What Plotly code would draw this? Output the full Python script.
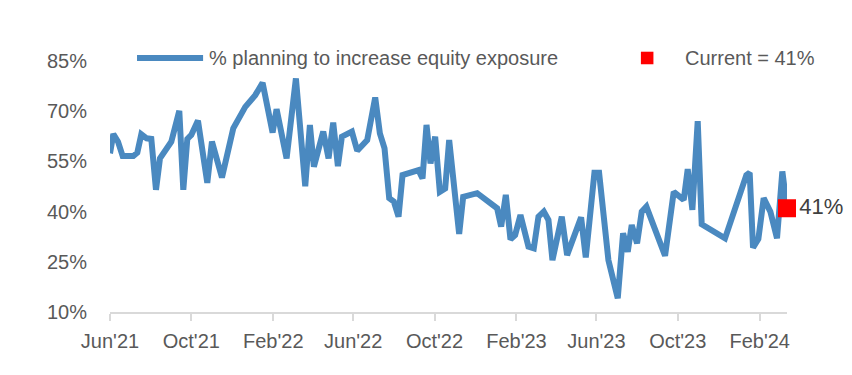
import plotly.graph_objects as go

# ---- data ----
dates = [
    "2021-06-01", "2021-06-06", "2021-06-13", "2021-06-20", "2021-07-06", "2021-07-12",
    "2021-07-18", "2021-07-26", "2021-08-02", "2021-08-09", "2021-08-15", "2021-09-01",
    "2021-09-13", "2021-09-19", "2021-09-25", "2021-10-01", "2021-10-11", "2021-10-25",
    "2021-11-01", "2021-11-16", "2021-12-03", "2021-12-21", "2022-01-05", "2022-01-16",
    "2022-01-31", "2022-02-06", "2022-02-21", "2022-03-07", "2022-03-21", "2022-03-28",
    "2022-04-03", "2022-04-17", "2022-04-25", "2022-05-02", "2022-05-09", "2022-05-15",
    "2022-05-30", "2022-06-07", "2022-06-22", "2022-07-04", "2022-07-11", "2022-07-18",
    "2022-07-25", "2022-08-01", "2022-08-08", "2022-08-14", "2022-09-07", "2022-09-13",
    "2022-09-19", "2022-09-25", "2022-10-02", "2022-10-09", "2022-10-17", "2022-10-23",
    "2022-11-07", "2022-11-13", "2022-12-04", "2023-01-03", "2023-01-09", "2023-01-16",
    "2023-01-23", "2023-01-30", "2023-02-07", "2023-02-19", "2023-02-27", "2023-03-06",
    "2023-03-14", "2023-03-21", "2023-03-27", "2023-04-10", "2023-04-18", "2023-05-09",
    "2023-05-16", "2023-05-29", "2023-06-05", "2023-06-19", "2023-07-03", "2023-07-11",
    "2023-07-18", "2023-07-24", "2023-08-01", "2023-08-08", "2023-08-15", "2023-09-02",
    "2023-09-12", "2023-09-25", "2023-10-10", "2023-10-16", "2023-10-23", "2023-10-31",
    "2023-11-06", "2023-12-11", "2024-01-12", "2024-01-17", "2024-01-22", "2024-01-30",
    "2024-02-07", "2024-02-17", "2024-02-27", "2024-03-06", "2024-03-13",
]
pct_increase = [
    57.4, 63.2, 60.9, 56.6, 56.6, 57.6,
    63.1, 61.9, 61.7, 46.5, 55.9, 60.9,
    70.1, 46.5, 61.7, 62.9, 67.2, 48.6,
    60.9, 50.2, 64.9, 71.3, 74.8, 78.5,
    63.6, 70.6, 55.9, 79.8, 47.6, 65.9,
    53.4, 63.9, 55.9, 66.6, 53.6, 62.4,
    63.9, 58.2, 61.4, 74.1, 63.4, 58.9,
    44.0, 43.0, 38.5, 50.9, 52.4, 49.9,
    65.9, 54.4, 62.4, 45.9, 46.9, 61.4,
    33.3, 44.4, 45.5, 41.0, 35.5, 45.0,
    31.7, 33.0, 39.0, 29.5, 29.0, 38.5,
    40.0, 37.5, 25.5, 38.5, 27.0, 38.3,
    26.3, 51.6, 51.6, 25.5, 14.1, 33.5,
    28.0, 36.0, 30.5, 40.0, 41.5, 32.0,
    26.8, 45.9, 43.5, 52.7, 40.5, 67.0,
    36.2, 32.0, 50.9, 51.6, 29.2, 31.8,
    44.0, 40.0, 32.0, 52.0, 41.0,
]
current_date = ["2024-03-13"]
current_value = [41]
current_label = ["41%"]

y_ticks = [10, 25, 40, 55, 70, 85]
y_tick_text = ["10%", "25%", "40%", "55%", "70%", "85%"]

series_name = "% planning to increase equity exposure"
current_name = "Current = 41%"

# ---- styles ----
LINE_COLOR = "#4a89c0"
TEXT_COLOR = "#595959"
FONT = "Liberation Sans, Arial, sans-serif"

fig = go.Figure()
fig.add_trace(go.Scatter(
    x=dates, y=pct_increase, mode="lines", name=series_name,
    line=dict(color=LINE_COLOR, width=6), showlegend=False,
))
fig.add_trace(go.Scatter(
    x=current_date, y=current_value, mode="markers+text", name=current_name,
    marker=dict(symbol="square", color="#ff0000", size=18),
    text=current_label, textposition="middle right",
    textfont=dict(size=22, color="#404040", family=FONT),
    cliponaxis=False, showlegend=False,
))

# manual legend (paper coordinates)
leg_y = 1.012
fig.add_shape(type="line", xref="paper", yref="paper", x0=0.0399, x1=0.1375,
              y0=leg_y, y1=leg_y, line=dict(color=LINE_COLOR, width=6))
fig.add_annotation(xref="paper", yref="paper", x=0.1434, y=leg_y, text=series_name,
                   showarrow=False, xanchor="left", yanchor="middle",
                   font=dict(size=20, color=TEXT_COLOR, family=FONT))
fig.add_shape(type="rect", xref="paper", yref="paper", x0=0.7842, x1=0.8027,
              y0=leg_y - 0.025, y1=leg_y + 0.025, fillcolor="#ff0000",
              line=dict(width=0))
fig.add_annotation(xref="paper", yref="paper", x=0.847, y=leg_y, text=current_name,
                   showarrow=False, xanchor="left", yanchor="middle",
                   font=dict(size=20, color=TEXT_COLOR, family=FONT))

# page body has an 8px margin, so the figure is 8px smaller and shifted
fig.update_layout(
    width=844, height=367,
    margin=dict(l=102, r=65, t=53, b=63, autoexpand=False),
    paper_bgcolor="white", plot_bgcolor="white",
    font=dict(family=FONT, size=20, color=TEXT_COLOR),
    showlegend=False,
)
fig.update_xaxes(
    type="date", range=["2021-06-01", "2024-03-13"],
    tick0="2021-06-01", dtick="M4", tickformat="%b'%y",
    showgrid=False, zeroline=False, automargin=False,
    showline=True, linecolor="#d9d9d9", linewidth=1.5,
    ticks="outside", ticklen=7, tickcolor="#d9d9d9", tickwidth=1.5,
    ticklabelstandoff=3,
    tickfont=dict(size=20, color=TEXT_COLOR, family=FONT),
)
fig.update_yaxes(
    range=[10, 85], tickvals=y_ticks, ticktext=y_tick_text,
    showgrid=False, zeroline=False, showline=False, ticks="",
    ticklabelstandoff=22, automargin=False,
    tickfont=dict(size=20, color=TEXT_COLOR, family=FONT),
)

fig.write_html("out.html")
